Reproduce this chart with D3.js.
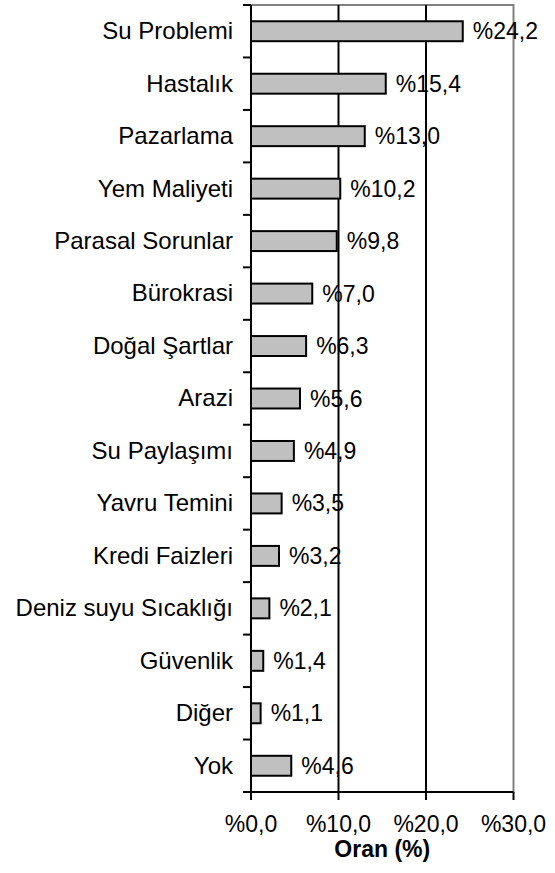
<!DOCTYPE html>
<meta charset="utf-8">
<script src="https://cdn.jsdelivr.net/npm/d3@7"></script>
<style>
body { margin: 0; background: #fff; }
text { font-family: "Liberation Sans", Arial, sans-serif; fill: #000; }
</style>
<body>
<script>
// categories and shares
var categories = ["Su Problemi", "Hastalık", "Pazarlama", "Yem Maliyeti", "Parasal Sorunlar",
  "Bürokrasi", "Doğal Şartlar", "Arazi", "Su Paylaşımı", "Yavru Temini", "Kredi Faizleri",
  "Deniz suyu Sıcaklığı", "Güvenlik", "Diğer", "Yok"];
var values = [24.2, 15.4, 13.0, 10.2, 9.8, 7.0, 6.3, 5.6, 4.9, 3.5, 3.2, 2.1, 1.4, 1.1, 4.6];
var xTicks = [0, 10, 20, 30];

var width = 555, height = 873;
var margin = {left: 251, right: 513.5, top: 5, bottom: 792};
var fs = "23px";

var fmt = function(v) { return "%" + v.toFixed(1).replace(".", ","); };

var svg = d3.select("body").append("svg")
    .attr("width", width)
    .attr("height", height);

var x = d3.scaleLinear().domain([0, 30]).range([margin.left, margin.right]);
var y = d3.scaleBand().domain(categories).range([margin.top, margin.bottom])
    .paddingInner(0.62).paddingOuter(0.31);

// plot border (gray)
svg.append("rect")
    .attr("x", margin.left).attr("y", margin.top)
    .attr("width", margin.right - margin.left).attr("height", margin.bottom - margin.top)
    .attr("fill", "none").attr("stroke", "#808080").attr("stroke-width", 2);

// vertical gridlines
svg.append("g").selectAll("line")
    .data(xTicks.slice(1, 3))
    .enter().append("line")
    .attr("x1", d => x(d)).attr("x2", d => x(d))
    .attr("y1", margin.top).attr("y2", margin.bottom)
    .attr("stroke", "#000").attr("stroke-width", 2);

// bars
svg.append("g").selectAll("rect")
    .data(values)
    .enter().append("rect")
    .attr("x", x(0))
    .attr("y", (d, i) => y(categories[i]))
    .attr("width", d => x(d) - x(0))
    .attr("height", y.bandwidth())
    .attr("fill", "#c0c0c0")
    .attr("stroke", "#000")
    .attr("stroke-width", 2);

// value labels
svg.append("g").selectAll("text")
    .data(values)
    .enter().append("text")
    .attr("x", d => x(d) + 10)
    .attr("y", (d, i) => y(categories[i]) + y.bandwidth() / 2)
    .attr("dy", "0.35em")
    .style("font-size", fs)
    .text(d => fmt(d));

// y axis with ticks at band edges
var step = (margin.bottom - margin.top) / categories.length;
var yAxis = svg.append("g");
yAxis.append("line")
    .attr("x1", margin.left).attr("x2", margin.left)
    .attr("y1", margin.top).attr("y2", margin.bottom)
    .attr("stroke", "#000").attr("stroke-width", 2);
yAxis.selectAll("line.tick")
    .data(d3.range(categories.length + 1))
    .enter().append("line")
    .attr("class", "tick")
    .attr("x1", margin.left - 8).attr("x2", margin.left)
    .attr("y1", d => margin.top + d * step).attr("y2", d => margin.top + d * step)
    .attr("stroke", "#000").attr("stroke-width", 2);
yAxis.selectAll("text")
    .data(categories)
    .enter().append("text")
    .attr("x", margin.left - 18)
    .attr("y", d => y(d) + y.bandwidth() / 2)
    .attr("dy", "0.33em")
    .attr("text-anchor", "end")
    .style("font-size", "24px")
    .text(d => d);

// x axis
var xAxis = svg.append("g");
xAxis.append("line")
    .attr("x1", margin.left).attr("x2", margin.right)
    .attr("y1", margin.bottom).attr("y2", margin.bottom)
    .attr("stroke", "#000").attr("stroke-width", 2);
xAxis.selectAll("line.tick")
    .data(xTicks)
    .enter().append("line")
    .attr("class", "tick")
    .attr("x1", d => x(d)).attr("x2", d => x(d))
    .attr("y1", margin.bottom).attr("y2", margin.bottom + 8)
    .attr("stroke", "#000").attr("stroke-width", 2);
xAxis.selectAll("text")
    .data(xTicks)
    .enter().append("text")
    .attr("x", d => x(d))
    .attr("y", 832)
    .attr("text-anchor", "middle")
    .style("font-size", fs)
    .text(d => fmt(d));

svg.append("text")
    .attr("x", (margin.left + margin.right) / 2)
    .attr("y", 857)
    .attr("text-anchor", "middle")
    .style("font-size", fs)
    .style("font-weight", "bold")
    .text("Oran (%)");
</script>
</body>
